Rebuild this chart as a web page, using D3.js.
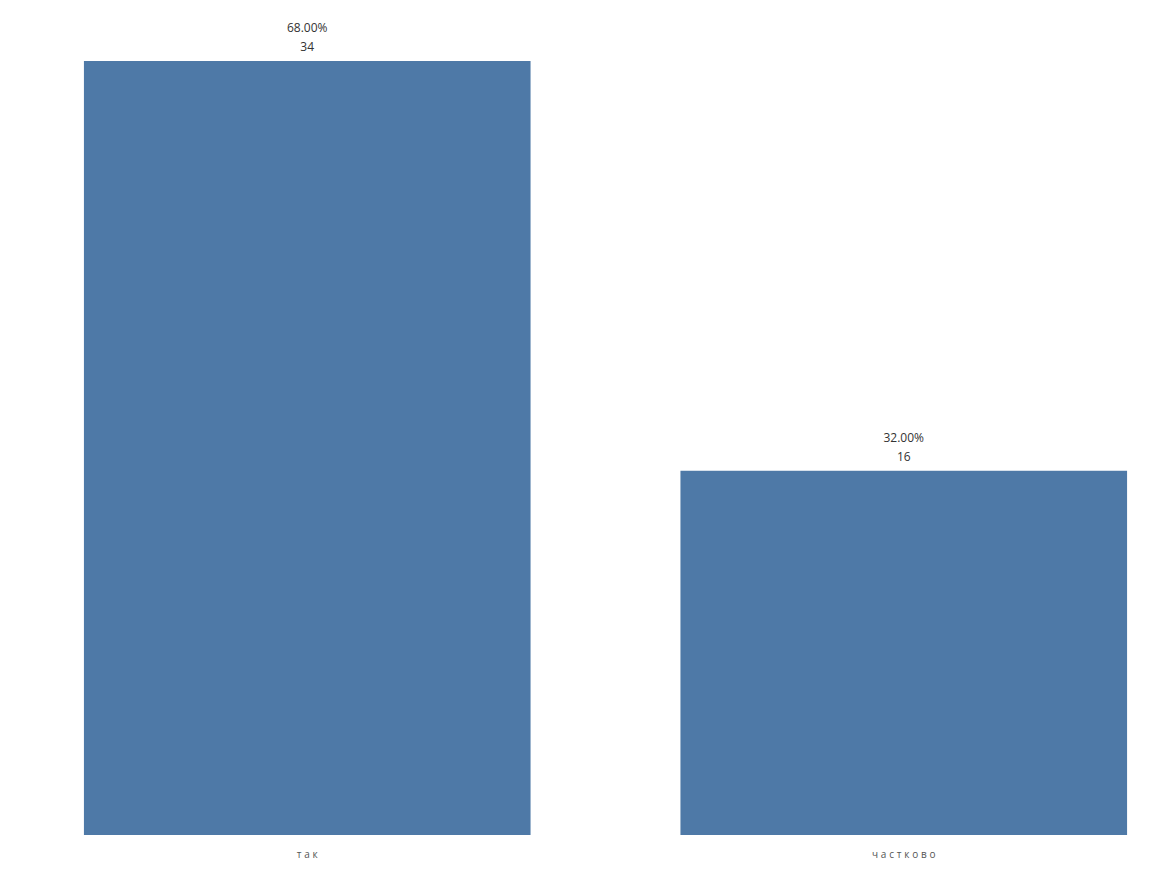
<!DOCTYPE html>
<html>
<head>
<meta charset="utf-8">
<script src="https://cdn.jsdelivr.net/npm/d3@7"></script>
<style>
  body { margin: 0; background: #fff; }
  text { font-family: "Open Sans", "DejaVu Sans", sans-serif; }
</style>
</head>
<body>
<svg id="chart" width="1168" height="870"></svg>
<script>
const categories = ["так", "частково"];
const counts = [34, 16];
const percents = ["68.00%", "32.00%"];

const svg = d3.select("#chart");
const rows = categories.map((c, i) => ({ cat: c, count: counts[i], pct: percents[i] }));

// band layout: bars ~447px wide, step ~597px
const x = d3.scaleBand()
  .domain(categories)
  .range([9, 1202])
  .paddingInner(0.2513)
  .paddingOuter(0.1256);

const y = d3.scaleLinear()
  .domain([0, 34])
  .range([835, 61]);

svg.selectAll("rect.bar")
  .data(rows)
  .join("rect")
  .attr("class", "bar")
  .attr("x", d => x(d.cat))
  .attr("width", x.bandwidth())
  .attr("y", d => y(d.count))
  .attr("height", d => y(0) - y(d.count))
  .attr("fill", "#4e79a7");

// labels over bars
svg.selectAll("text.pct")
  .data(rows)
  .join("text")
  .attr("class", "pct")
  .attr("x", d => x(d.cat) + x.bandwidth() / 2)
  .attr("y", d => y(d.count) - 29)
  .attr("text-anchor", "middle")
  .attr("font-size", 12)
  .attr("fill", "#333")
  .text(d => d.pct);

svg.selectAll("text.cnt")
  .data(rows)
  .join("text")
  .attr("class", "cnt")
  .attr("x", d => x(d.cat) + x.bandwidth() / 2)
  .attr("y", d => y(d.count) - 10)
  .attr("text-anchor", "middle")
  .attr("font-size", 12)
  .attr("fill", "#333")
  .text(d => d.count);

// category axis, no line/ticks
const xAxis = svg.append("g")
  .attr("transform", "translate(0,835)")
  .call(d3.axisBottom(x).tickSize(0).tickPadding(16));
xAxis.select(".domain").remove();
xAxis.selectAll("text")
  .attr("font-size", 10)
  .attr("fill", "#555")
  .attr("dx", 1.4)
  .style("letter-spacing", "2.8px")
  .style("font-family", "\"Open Sans\", sans-serif");
</script>
</body>
</html>
